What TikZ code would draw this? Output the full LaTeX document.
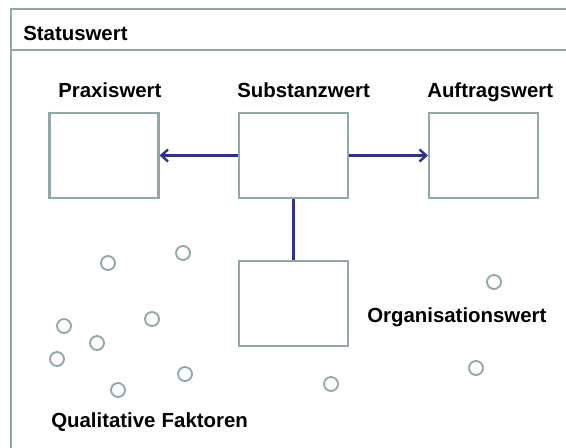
\documentclass[tikz,border=0pt]{standalone}
\usepackage{fontspec}
\setmainfont{Liberation Sans}
\usetikzlibrary{arrows.meta}
\definecolor{framecol}{HTML}{8FA8A8}
\definecolor{linkcol}{HTML}{2E3192}
\tikzset{
  box/.style={draw=framecol, line width=1.8pt, minimum width=81.5pt, minimum height=63.5pt, inner sep=0pt},
  lbl/.style={anchor=base west, inner sep=0pt, font=\fontsize{15.3}{18}\selectfont\bfseries, text=black},
  frameline/.style={draw=framecol, line width=1.9pt},
  link/.style={draw=linkcol, line width=1.8pt},
  arr/.style={link, -{Straight Barb[length=5pt,width=9pt,line width=1.8pt]}},
  dot/.style={circle, draw=framecol, line width=1.4pt, minimum size=10.5pt, inner sep=0pt}
}
\begin{document}
\begin{tikzpicture}[x=0.75pt,y=-0.75pt]
\useasboundingbox (0,0) rectangle (566,448);
\fill[white] (0,0) rectangle (566,448);
% frame
\coordinate (ftl) at (11,9);
\coordinate (ftr) at (570,9);
\coordinate (fbl) at (11,452);
\coordinate (hl) at (11,50);
\coordinate (hr) at (570,50);
\draw[frameline] (fbl) -- (ftl) -- (ftr);
\draw[frameline] (hl) -- (hr);
\node[lbl] (status) at (23,41) {Statuswert};
% labels
\node[lbl] (lpraxis) at (58,97.5) {Praxiswert};
\node[lbl] (lsubst) at (237,98) {Substanzwert};
\node[lbl] (lauftrag) at (427,98) {Auftragswert};
\node[lbl] (lorg) at (367,322) {Organisationswert};
\node[lbl] (lqual) at (51,427) {Qualitative\hspace{0.3em}Faktoren};
% boxes
\node[box] (praxis) at (104,155.5) {};
\node[box] (subst) at (293.5,155.5) {};
\node[box] (auftrag) at (483.5,155.5) {};
\node[box] (org) at (293.5,303.5) {};
% connectors
\draw[arr] (subst.west) -- (praxis.east);
\draw[arr] (subst.east) -- (auftrag.west);
\draw[link] (subst.south) -- (org.north);
% circles
\node[dot] (c1) at (108,263) {};
\node[dot] (c2) at (183,253) {};
\node[dot] (c3) at (494,282) {};
\node[dot] (c4) at (64,326) {};
\node[dot] (c5) at (152,319) {};
\node[dot] (c6) at (97,343) {};
\node[dot] (c7) at (57,359) {};
\node[dot] (c8) at (185,374) {};
\node[dot] (c9) at (118,390) {};
\node[dot] (c10) at (331,384) {};
\node[dot] (c11) at (476,368) {};
\end{tikzpicture}
\end{document}
